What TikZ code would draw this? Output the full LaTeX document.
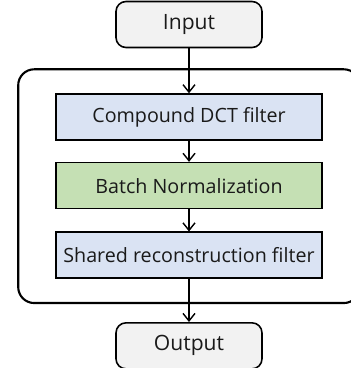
\documentclass[tikz,border=0pt]{standalone}
\usepackage{fontspec}
\setmainfont{Open Sans}
\usetikzlibrary{arrows.meta, positioning, fit, backgrounds}
\usepackage{xcolor}
\definecolor{filterblue}{HTML}{DAE3F3}
\definecolor{normgreen}{HTML}{C5E0B4}
\definecolor{iogray}{HTML}{F2F2F2}
\definecolor{textgray}{HTML}{1A1A1A}

\begin{document}
\begin{tikzpicture}[
    % Estilos de bloques
    ioblock/.style={
        rectangle,
        draw=black,
        fill=iogray,
        rounded corners=0.2cm,
        minimum width=2.92cm,
        minimum height=0.92cm,
        line width=0.9pt,
        text=textgray,
        font=\fontsize{12}{14}\selectfont
    },
    layerblock/.style={
        rectangle,
        draw=black,
        minimum width=5.32cm,
        minimum height=0.92cm,
        line width=0.9pt,
        text=textgray,
        font=\fontsize{11.2}{13}\selectfont
    },
    flow/.style={
        draw=black,
        -{Straight Barb[length=1.5mm, width=2.4mm]},
        line width=0.8pt
    }
]
    \useasboundingbox (0,0) rectangle (7,-7.36);

    % ==========================================
    % 1. ENTRADA
    % ==========================================
    \node[ioblock] (input) at (3.78,-0.49) {Input};

    % ==========================================
    % 2. CAPAS DEL BLOQUE
    % ==========================================
    \node[layerblock, fill=filterblue, below=0.9cm of input] (dct) {Compound DCT filter};
    \node[layerblock, fill=normgreen, below=0.42cm of dct] (bn) {Batch Normalization};
    \node[layerblock, fill=filterblue, below=0.44cm of bn] (recon) {Shared reconstruction filter};

    % Contenedor
    \begin{scope}[on background layer]
        \node[draw=black, line width=1.2pt, rounded corners=0.32cm, inner xsep=0.74cm, inner ysep=0.48cm, fit=(dct) (recon)] (block) {};
    \end{scope}

    % ==========================================
    % 3. SALIDA
    % ==========================================
    \node[ioblock, below=0.86cm of recon] (output) {Output};

    % ==========================================
    % FLUJOS
    % ==========================================
    \path[flow] (input) -- (dct);
    \path[flow] (dct) -- (bn);
    \path[flow] (bn) -- (recon);
    \path[flow] (recon) -- (output);

\end{tikzpicture}
\end{document}
